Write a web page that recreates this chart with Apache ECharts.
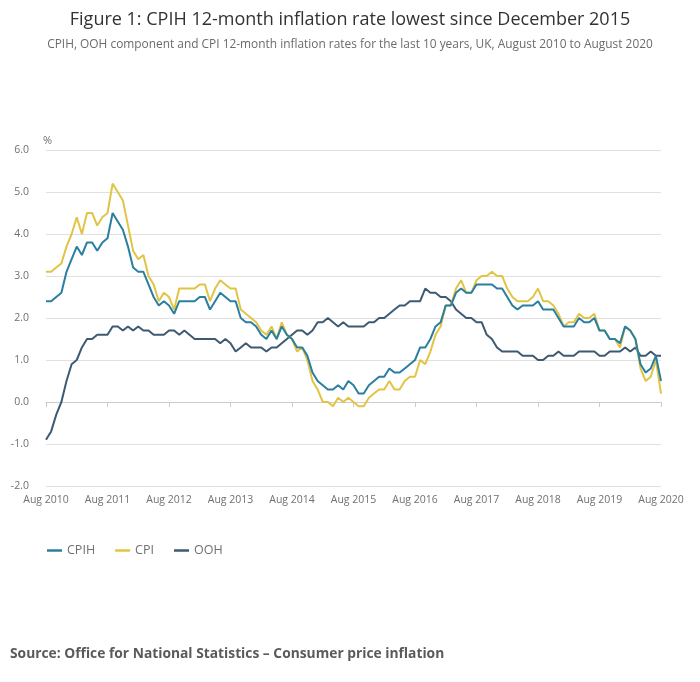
<!DOCTYPE html>
<html>
<head>
<meta charset="utf-8">
<script src="https://cdn.jsdelivr.net/npm/echarts@6/dist/echarts.min.js"></script>
<style>
html,body{margin:0;padding:0;background:#fff;}
#chart{width:700px;height:682px;}
</style>
</head>
<body>
<div id="chart"></div>
<script>
// Months Aug 2010 .. Aug 2020
const categories = [
  'Aug 2010','Sep 2010','Oct 2010','Nov 2010','Dec 2010',
  'Jan 2011','Feb 2011','Mar 2011','Apr 2011','May 2011','Jun 2011','Jul 2011','Aug 2011','Sep 2011','Oct 2011','Nov 2011','Dec 2011',
  'Jan 2012','Feb 2012','Mar 2012','Apr 2012','May 2012','Jun 2012','Jul 2012','Aug 2012','Sep 2012','Oct 2012','Nov 2012','Dec 2012',
  'Jan 2013','Feb 2013','Mar 2013','Apr 2013','May 2013','Jun 2013','Jul 2013','Aug 2013','Sep 2013','Oct 2013','Nov 2013','Dec 2013',
  'Jan 2014','Feb 2014','Mar 2014','Apr 2014','May 2014','Jun 2014','Jul 2014','Aug 2014','Sep 2014','Oct 2014','Nov 2014','Dec 2014',
  'Jan 2015','Feb 2015','Mar 2015','Apr 2015','May 2015','Jun 2015','Jul 2015','Aug 2015','Sep 2015','Oct 2015','Nov 2015','Dec 2015',
  'Jan 2016','Feb 2016','Mar 2016','Apr 2016','May 2016','Jun 2016','Jul 2016','Aug 2016','Sep 2016','Oct 2016','Nov 2016','Dec 2016',
  'Jan 2017','Feb 2017','Mar 2017','Apr 2017','May 2017','Jun 2017','Jul 2017','Aug 2017','Sep 2017','Oct 2017','Nov 2017','Dec 2017',
  'Jan 2018','Feb 2018','Mar 2018','Apr 2018','May 2018','Jun 2018','Jul 2018','Aug 2018','Sep 2018','Oct 2018','Nov 2018','Dec 2018',
  'Jan 2019','Feb 2019','Mar 2019','Apr 2019','May 2019','Jun 2019','Jul 2019','Aug 2019','Sep 2019','Oct 2019','Nov 2019','Dec 2019',
  'Jan 2020','Feb 2020','Mar 2020','Apr 2020','May 2020','Jun 2020','Jul 2020','Aug 2020'
];

const cpih = [
  2.4, 2.4, 2.5, 2.6, 3.1,
  3.4, 3.7, 3.5, 3.8, 3.8, 3.6, 3.8, 3.9, 4.5, 4.3, 4.1, 3.7,
  3.2, 3.1, 3.1, 2.8, 2.5, 2.3, 2.4, 2.3, 2.1, 2.4, 2.4, 2.4,
  2.4, 2.5, 2.5, 2.2, 2.4, 2.6, 2.5, 2.4, 2.4, 2.0, 1.9, 1.9,
  1.8, 1.6, 1.5, 1.7, 1.5, 1.8, 1.6, 1.5, 1.3, 1.3, 1.1, 0.7,
  0.5, 0.4, 0.3, 0.3, 0.4, 0.3, 0.5, 0.4, 0.2, 0.2, 0.4, 0.5,
  0.6, 0.6, 0.8, 0.7, 0.7, 0.8, 0.9, 1.0, 1.3, 1.3, 1.5, 1.8,
  1.9, 2.3, 2.3, 2.6, 2.7, 2.6, 2.6, 2.8, 2.8, 2.8, 2.8, 2.7,
  2.7, 2.5, 2.3, 2.2, 2.3, 2.3, 2.3, 2.4, 2.2, 2.2, 2.2, 2.0,
  1.8, 1.8, 1.8, 2.0, 1.9, 1.9, 2.0, 1.7, 1.7, 1.5, 1.5, 1.4,
  1.8, 1.7, 1.5, 0.9, 0.7, 0.8, 1.1, 0.5
];

const cpi = [
  3.1, 3.1, 3.2, 3.3, 3.7,
  4.0, 4.4, 4.0, 4.5, 4.5, 4.2, 4.4, 4.5, 5.2, 5.0, 4.8, 4.2,
  3.6, 3.4, 3.5, 3.0, 2.8, 2.4, 2.6, 2.5, 2.2, 2.7, 2.7, 2.7,
  2.7, 2.8, 2.8, 2.4, 2.7, 2.9, 2.8, 2.7, 2.7, 2.2, 2.1, 2.0,
  1.9, 1.7, 1.6, 1.8, 1.5, 1.9, 1.6, 1.5, 1.2, 1.3, 1.0, 0.5,
  0.3, 0.0, 0.0, -0.1, 0.1, 0.0, 0.1, 0.0, -0.1, -0.1, 0.1, 0.2,
  0.3, 0.3, 0.5, 0.3, 0.3, 0.5, 0.6, 0.6, 1.0, 0.9, 1.2, 1.6,
  1.8, 2.3, 2.3, 2.7, 2.9, 2.6, 2.6, 2.9, 3.0, 3.0, 3.1, 3.0,
  3.0, 2.7, 2.5, 2.4, 2.4, 2.4, 2.5, 2.7, 2.4, 2.4, 2.3, 2.1,
  1.8, 1.9, 1.9, 2.1, 2.0, 2.0, 2.1, 1.7, 1.7, 1.5, 1.5, 1.3,
  1.8, 1.7, 1.5, 0.8, 0.5, 0.6, 1.0, 0.2
];

const ooh = [
  -0.9, -0.7, -0.3, 0.0, 0.5,
  0.9, 1.0, 1.3, 1.5, 1.5, 1.6, 1.6, 1.6, 1.8, 1.8, 1.7, 1.8,
  1.7, 1.8, 1.7, 1.7, 1.6, 1.6, 1.6, 1.7, 1.7, 1.6, 1.7, 1.6,
  1.5, 1.5, 1.5, 1.5, 1.5, 1.4, 1.5, 1.4, 1.2, 1.3, 1.4, 1.3,
  1.3, 1.3, 1.2, 1.3, 1.3, 1.4, 1.5, 1.6, 1.7, 1.7, 1.6, 1.7,
  1.9, 1.9, 2.0, 1.9, 1.8, 1.9, 1.8, 1.8, 1.8, 1.8, 1.9, 1.9,
  2.0, 2.0, 2.1, 2.2, 2.3, 2.3, 2.4, 2.4, 2.4, 2.7, 2.6, 2.6,
  2.5, 2.5, 2.4, 2.2, 2.1, 2.0, 2.0, 1.9, 1.9, 1.6, 1.5, 1.3,
  1.2, 1.2, 1.2, 1.2, 1.1, 1.1, 1.1, 1.0, 1.0, 1.1, 1.1, 1.2,
  1.1, 1.1, 1.1, 1.2, 1.2, 1.2, 1.2, 1.1, 1.1, 1.2, 1.2, 1.2,
  1.3, 1.2, 1.3, 1.1, 1.1, 1.2, 1.1, 1.1
];

const seriesNames = ['CPIH', 'CPI', 'OOH'];
const colors = ['#2a7fa0', '#e2c445', '#3d5a73'];
const yTicks = { min: -2, max: 6, interval: 1 };

const FONT = '"Open Sans", "Noto Sans", sans-serif';
const chart = echarts.init(document.getElementById('chart'), null, { renderer: 'canvas' });

const dataSets = [cpih, cpi, ooh];

chart.setOption({
  animation: false,
  backgroundColor: '#ffffff',
  textStyle: { fontFamily: FONT },
  title: {
    text: 'Figure 1: CPIH 12-month inflation rate lowest since December 2015',
    subtext: 'CPIH, OOH component and CPI 12-month inflation rates for the last 10 years, UK, August 2010 to August 2020',
    left: 'center',
    top: 6,
    itemGap: 10,
    textStyle: { fontFamily: FONT, fontSize: 18, fontWeight: 'normal', color: '#323232' },
    subtextStyle: { fontFamily: FONT, fontSize: 11.9, color: '#6b6b6b' }
  },
  legend: {
    data: seriesNames,
    left: 42,
    top: 539,
    icon: 'rect',
    itemWidth: 15,
    itemHeight: 2.5,
    itemGap: 20,
    textStyle: { fontFamily: FONT, fontSize: 12.5, color: '#707070' }
  },
  grid: { left: 46, right: 39, top: 150, bottom: 196, containLabel: false },
  xAxis: {
    type: 'category',
    data: categories,
    boundaryGap: false,
    axisLine: { show: true, lineStyle: { color: '#cccccc', width: 1 } },
    axisTick: { show: true, interval: 11, length: 5, lineStyle: { color: '#cccccc' } },
    axisLabel: { interval: 11, color: '#707070', fontFamily: FONT, fontSize: 10.5, margin: 9 },
    splitLine: { show: false }
  },
  yAxis: {
    type: 'value',
    min: yTicks.min,
    max: yTicks.max,
    interval: yTicks.interval,
    name: '%',
    nameLocation: 'end',
    nameGap: 4,
    nameTextStyle: { color: '#707070', fontFamily: FONT, fontSize: 11, align: 'left', padding: [0, 0, 0, -3] },
    axisLine: { show: false },
    axisTick: { show: false },
    axisLabel: { color: '#707070', fontFamily: FONT, fontSize: 10.5, margin: 17, formatter: v => v.toFixed(1) },
    splitLine: { show: true, lineStyle: { color: '#e0e0e0', width: 1 } }
  },
  series: seriesNames.map((name, i) => ({
    name: name,
    type: 'line',
    data: dataSets[i],
    showSymbol: false,
    symbol: 'none',
    lineStyle: { width: 2, color: colors[i] },
    itemStyle: { color: colors[i] },
    z: 3 - i
  })),
  graphic: [{
    type: 'text',
    left: 10,
    top: 647,
    style: {
      text: 'Source: Office for National Statistics \u2013 Consumer price inflation',
      fontFamily: FONT,
      fontSize: 13.8,
      fontWeight: 'bold',
      fill: '#5a5a5a'
    }
  }]
});
</script>
</body>
</html>
